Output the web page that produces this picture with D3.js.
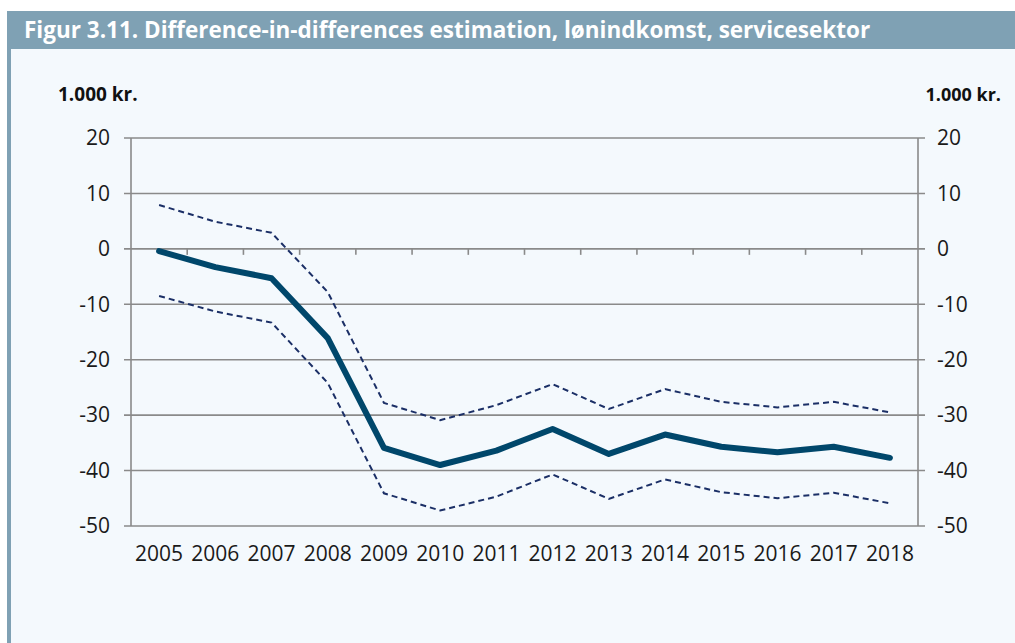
<!DOCTYPE html>
<html>
<head>
<meta charset="utf-8">
<script src="https://cdn.jsdelivr.net/npm/d3@7"></script>
<style>
  body { margin: 0; background: #fff; }
  svg { display: block; font-family: "Open Sans", sans-serif; }
</style>
</head>
<body>
<svg width="1015" height="643"></svg>
<script>
// data
var years = ["2005","2006","2007","2008","2009","2010","2011","2012","2013","2014","2015","2016","2017","2018"];
var estimate = [-0.4, -3.3, -5.3, -16.1, -35.9, -39.0, -36.4, -32.5, -37.0, -33.5, -35.7, -36.7, -35.7, -37.7];
var upper = [7.9, 4.9, 2.9, -7.8, -27.8, -30.9, -28.2, -24.4, -28.9, -25.3, -27.6, -28.6, -27.6, -29.5];
var lower = [-8.5, -11.3, -13.3, -24.2, -44.1, -47.2, -44.7, -40.7, -45.1, -41.6, -43.9, -45.0, -44.0, -45.9];
var yTicks = [20, 10, 0, -10, -20, -30, -40, -50];
var title = "Figur 3.11. Difference-in-differences estimation, lønindkomst, servicesektor";
var unit = "1.000 kr.";

var svg = d3.select("svg");

// panel + title bar
svg.append("rect").attr("x", 7).attr("y", 11).attr("width", 1008).attr("height", 632).attr("fill", "#f4f9fd");
svg.append("rect").attr("x", 7).attr("y", 11).attr("width", 1008).attr("height", 38).attr("fill", "#7fa1b4");
svg.append("rect").attr("x", 7).attr("y", 11).attr("width", 4).attr("height", 632).attr("fill", "#7fa1b4");

svg.append("text")
    .attr("x", 24).attr("y", 38)
    .attr("fill", "#fff")
    .style("font-size", "22.5px").style("font-weight", "bold")
    .text(title);

var plotL = 131, plotR = 918, plotT = 138, plotB = 526;

var x = d3.scaleBand().domain(years).range([plotL, plotR]).padding(0),
    y = d3.scaleLinear().domain([-50, 20]).range([plotB, plotT]);

var g = svg.append("g");

// gridlines
g.selectAll(".grid")
  .data(yTicks)
  .enter().append("line")
    .attr("x1", plotL - 7).attr("x2", plotR + 7)
    .attr("y1", function(d) { return y(d); })
    .attr("y2", function(d) { return y(d); })
    .attr("stroke", "#8a8a8a").attr("stroke-width", 1.6);

// vertical axis lines
[plotL, plotR].forEach(function(px) {
  g.append("line")
    .attr("x1", px).attr("x2", px)
    .attr("y1", y(20)).attr("y2", y(-50))
    .attr("stroke", "#8a8a8a").attr("stroke-width", 1.6);
});

// category ticks on zero line
g.selectAll(".xtick")
  .data(years.slice(1))
  .enter().append("line")
    .attr("x1", function(d) { return x(d); })
    .attr("x2", function(d) { return x(d); })
    .attr("y1", y(0)).attr("y2", y(0) + 6)
    .attr("stroke", "#8a8a8a").attr("stroke-width", 1.6);

// y labels
g.selectAll(".ylab-l")
  .data(yTicks)
  .enter().append("text")
    .attr("x", 110)
    .attr("y", function(d) { return y(d); })
    .attr("dy", "0.35em")
    .attr("text-anchor", "end")
    .style("font-size", "21px")
    .attr("fill", "#1a1a1a")
    .text(function(d) { return d; });

g.selectAll(".ylab-r")
  .data(yTicks)
  .enter().append("text")
    .attr("x", 937)
    .attr("y", function(d) { return y(d); })
    .attr("dy", "0.35em")
    .style("font-size", "21px")
    .attr("fill", "#1a1a1a")
    .text(function(d) { return d; });

// x labels
g.selectAll(".xlab")
  .data(years)
  .enter().append("text")
    .attr("x", function(d) { return x(d) + x.bandwidth() / 2; })
    .attr("y", 561)
    .attr("text-anchor", "middle")
    .style("font-size", "21px")
    .attr("fill", "#1a1a1a")
    .text(function(d) { return d; });

// unit labels
svg.append("text").attr("x", 58).attr("y", 101)
    .style("font-size", "19px").style("font-weight", "bold").attr("fill", "#111")
    .text(unit);
svg.append("text").attr("x", 1001).attr("y", 101).attr("text-anchor", "end")
    .style("font-size", "18px").style("font-weight", "bold").attr("fill", "#111")
    .text(unit);

// lines
var line = d3.line()
    .x(function(d, i) { return x(years[i]) + x.bandwidth() / 2; })
    .y(function(d) { return y(d); });

[upper, lower].forEach(function(s) {
  g.append("path")
    .attr("d", line(s))
    .attr("fill", "none")
    .attr("stroke", "#1b2f66")
    .attr("stroke-width", 2)
    .attr("stroke-dasharray", "6,4");
});

g.append("path")
    .attr("d", line(estimate))
    .attr("fill", "none")
    .attr("stroke", "#00476b")
    .attr("stroke-width", 6)
    .attr("stroke-linejoin", "round")
    .attr("stroke-linecap", "round");
</script>
</body>
</html>
